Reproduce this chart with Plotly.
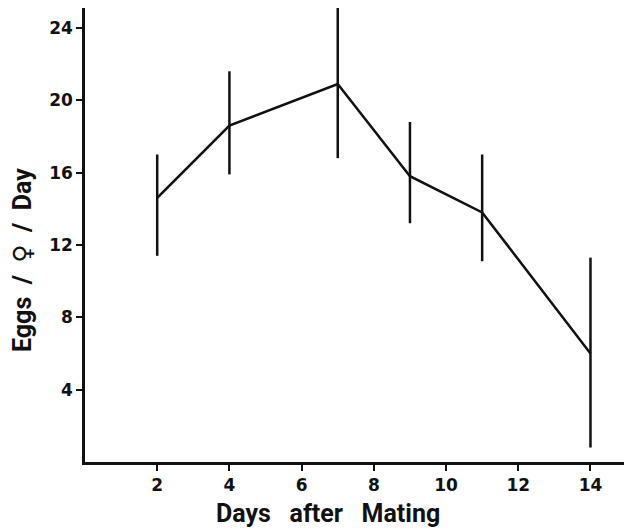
import plotly.graph_objects as go

days = [2, 4, 7, 9, 11, 14]
eggs = [14.6, 18.6, 20.9, 15.8, 13.8, 6.0]
err_upper = [17.0, 21.6, 25.3, 18.8, 17.0, 11.3]
err_lower = [11.4, 15.9, 16.8, 13.2, 11.1, 0.8]

x_ticks = [2, 4, 6, 8, 10, 12, 14]
y_ticks = [4, 8, 12, 16, 20, 24]

plus = [u - e for u, e in zip(err_upper, eggs)]
minus = [e - l for e, l in zip(eggs, err_lower)]

# page has an 8px body margin; figure coordinates = page coordinates - 8
W, H = 624, 523
L, B, T, R = 77, 69, 0, 0

fig = go.Figure()
fig.add_trace(go.Scatter(
    x=days, y=eggs, mode="lines",
    line=dict(color="#111111", width=2.5),
    error_y=dict(type="data", symmetric=False, array=plus, arrayminus=minus,
                 color="#111111", thickness=2.5, width=0),
    showlegend=False, cliponaxis=False,
))

tick_font = dict(family="DejaVu Sans", size=17, color="#111111", weight="bold")
xtitle_font = dict(family="Roboto", size=25, color="#111111", weight="bold")
ytitle_font = dict(family="Roboto", size=25, color="#111111", weight="bold")

fig.update_layout(
    width=W, height=H,
    margin=dict(l=L, r=R, t=T, b=B, autoexpand=False),
    plot_bgcolor="white", paper_bgcolor="white",
    xaxis=dict(range=[0, 15.15], tickvals=x_ticks, ticks="outside", ticklen=6,
               tickwidth=2, tickcolor="#111111", showline=True, linecolor="#111111",
               linewidth=2.5, showgrid=False, zeroline=False, tickfont=tick_font),
    yaxis=dict(range=[0, 25.1], tickvals=y_ticks, ticks="outside", ticklen=6,
               tickwidth=2, tickcolor="#111111", showline=True, linecolor="#111111",
               linewidth=2.5, showgrid=False, zeroline=False, tickfont=tick_font),
)

pw = W - L - R
ph = H - T - B
fig.add_annotation(text="Days   after   Mating", x=(320 - L) / pw, y=(454 - 505) / ph,
                   xref="paper", yref="paper", showarrow=False,
                   xanchor="center", yanchor="middle", font=xtitle_font)
fig.add_annotation(
    text='Eggs  /  <span style="font-family:DejaVu Sans;font-size:25px">♀</span>  /  Day',
    x=(14 - L) / pw, y=(454 - 252) / ph,
    xref="paper", yref="paper", showarrow=False, textangle=-90,
    xanchor="center", yanchor="middle", font=ytitle_font)

fig.write_html("out.html")
